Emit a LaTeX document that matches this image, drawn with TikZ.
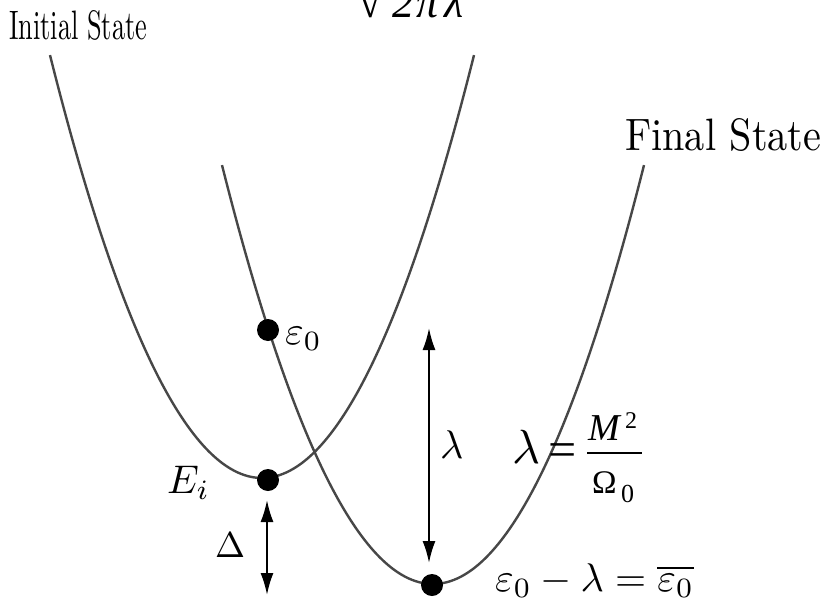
\documentclass[tikz,border=0pt]{standalone}
\usepackage{fontspec}
\newfontfamily\tnr{Liberation Serif}
\usetikzlibrary{arrows.meta}
\begin{document}
\begin{tikzpicture}[x=1pt,y=-1pt,
  curve/.style={line width=2.4pt, draw=black!72},
  dot/.style={circle, fill=black, inner sep=0pt, minimum size=22pt},
  dbl/.style={line width=2pt, {Latex[length=22pt,width=13pt]}-{Latex[length=22pt,width=13pt]}},
  lbl/.style={inner sep=0pt, anchor=base west}]
\clip (0,0) rectangle (821,602);
\fill[white] (0,0) rectangle (821,602);
% potential curves
\draw[curve] plot[domain=-212:212, samples=121, smooth] ({262+\x},{478-(0.097*\x)*(0.097*\x)});
\draw[curve] plot[domain=-211:211, samples=121, smooth] ({433+\x},{584-(0.097*\x)*(0.097*\x)});
% points
\node[dot] (e0) at (268,330) {};
\node[dot] (ei) at (268,480) {};
\node[dot] (bot) at (432,585) {};
% arrows
\coordinate (lamtop) at (429,328);
\coordinate (lambot) at (429,563);
\coordinate (deltop) at (267,500);
\coordinate (delbot) at (267,595);
\draw[dbl] (lamtop) -- (lambot);
\draw[dbl] (deltop) -- (delbot);
% labels
\node[lbl] (init) at (9,39) {\resizebox{138pt}{29pt}{Initial State}};
\node[lbl] (fin) at (625,150) {\resizebox{196pt}{32pt}{Final State}};
\node[lbl] (eilab) at (167,493) {\scalebox{4}{$E_i$}};
\node[lbl] (dellab) at (215,557) {\scalebox{3.6}{$\Delta$}};
\node[lbl] (lamlab) at (440,458) {\scalebox{4}{$\lambda$}};
\node[lbl] (e0lab) at (285,344) {\scalebox{4}{$\varepsilon_0$}};
\node[lbl] (botlab) at (495,591) {\scalebox{4}{$\varepsilon_0-\lambda=\overline{\varepsilon_0}$}};
% formula lambda = M^2/Omega_0
\node[lbl] (flam) at (512,463) {\scalebox{4.8}{$\lambda$}};
\node[lbl] (feq) at (548,466) {\tnr\fontsize{50}{50}\selectfont =};
\node[lbl] (fM) at (588,440) {\tnr\itshape\fontsize{38}{38}\selectfont M};
\node[lbl] (fsup) at (625,428) {\tnr\fontsize{24}{24}\selectfont 2};
\draw[line width=2pt] (587,453) -- (642,453);
\node[lbl] (fOm) at (592,493) {\tnr\fontsize{33}{33}\selectfont Ω};
\node[lbl] (fsub) at (621,502) {\tnr\fontsize{26}{26}\selectfont 0};
% clipped formula at top
\node[lbl] (sq) at (358,18) {\tnr\fontsize{44}{44}\selectfont √\kern10pt{\itshape 2\kern2ptπ\kern6ptλ}};
\end{tikzpicture}
\end{document}
